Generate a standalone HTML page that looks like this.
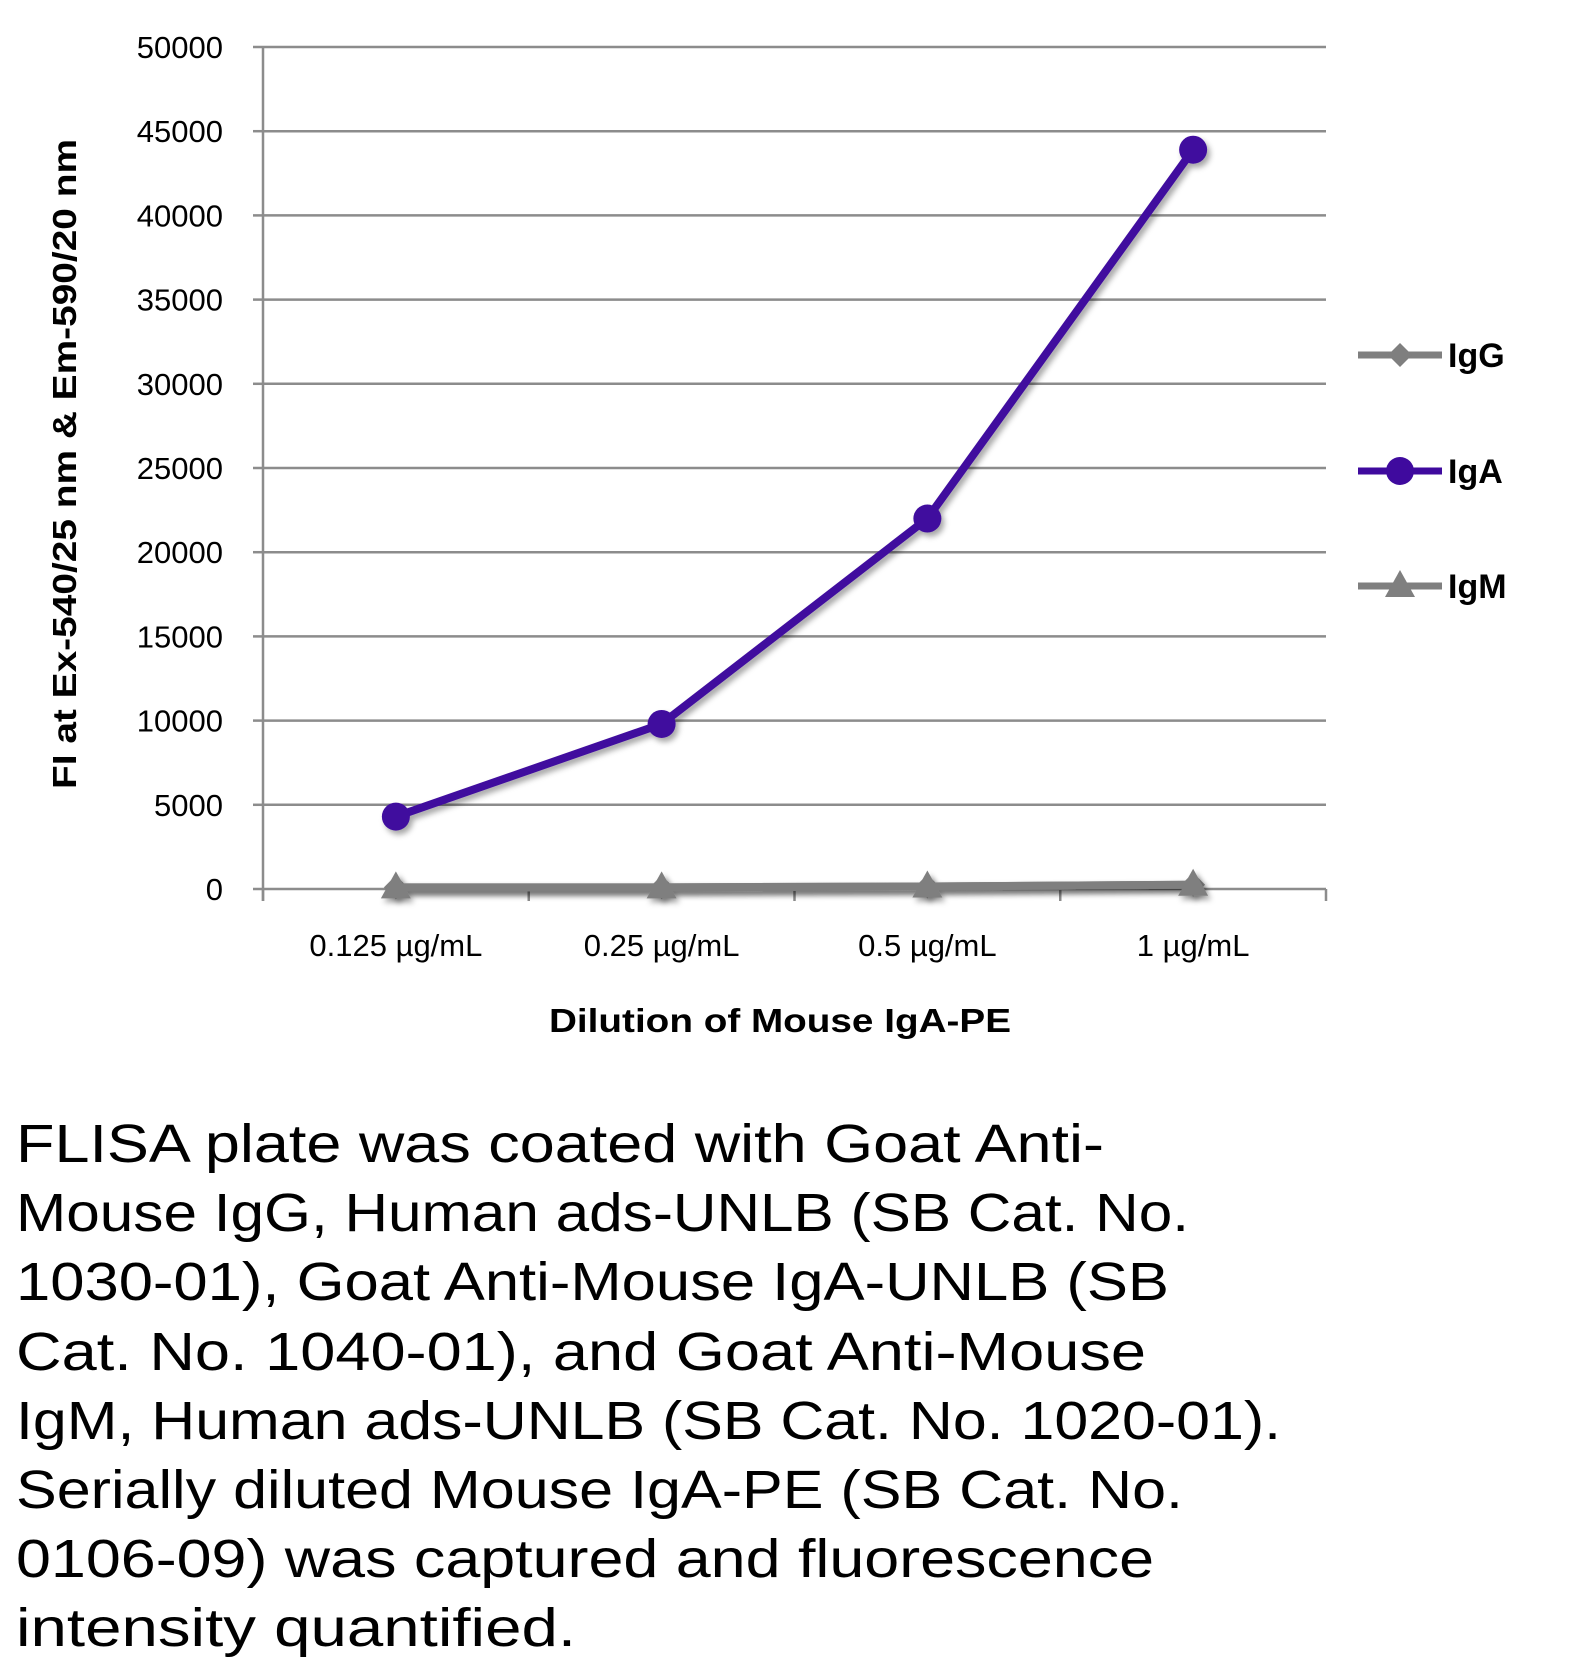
<!DOCTYPE html>
<html><head><meta charset="utf-8"><style>
html,body{margin:0;padding:0;background:#fff;}
svg{display:block;font-family:"Liberation Sans",sans-serif;}
</style></head><body>
<svg id="chart" width="1570" height="1670" viewBox="0 0 1570 1670" xmlns="http://www.w3.org/2000/svg">
<defs><filter id="sh" x="-50%" y="-50%" width="200%" height="200%"><feDropShadow dx="3" dy="4" stdDeviation="3" flood-color="#000" flood-opacity="0.35"/></filter></defs>
<g id="grid"></g>
<g id="axes"></g>
<g id="series"></g>
<g id="legend"></g>
<text transform="translate(76,464) rotate(-90)" text-anchor="middle" font-size="33" font-weight="bold" fill="#000" textLength="650" lengthAdjust="spacingAndGlyphs">FI at Ex-540/25 nm &amp; Em-590/20 nm</text>
<text x="780" y="1032" text-anchor="middle" font-size="33" font-weight="bold" fill="#000" textLength="462" lengthAdjust="spacingAndGlyphs">Dilution of Mouse IgA-PE</text>
<g font-size="54" fill="#000">
<text x="16" y="1162" textLength="1088" lengthAdjust="spacingAndGlyphs">FLISA plate was coated with Goat Anti-</text>
<text x="16" y="1231" textLength="1173" lengthAdjust="spacingAndGlyphs">Mouse IgG, Human ads-UNLB (SB Cat. No.</text>
<text x="16" y="1300" textLength="1153" lengthAdjust="spacingAndGlyphs">1030-01), Goat Anti-Mouse IgA-UNLB (SB</text>
<text x="16" y="1370" textLength="1130" lengthAdjust="spacingAndGlyphs">Cat. No. 1040-01), and Goat Anti-Mouse</text>
<text x="16" y="1439" textLength="1265" lengthAdjust="spacingAndGlyphs">IgM, Human ads-UNLB (SB Cat. No. 1020-01).</text>
<text x="16" y="1508" textLength="1167" lengthAdjust="spacingAndGlyphs">Serially diluted Mouse IgA-PE (SB Cat. No.</text>
<text x="16" y="1577" textLength="1138" lengthAdjust="spacingAndGlyphs">0106-09) was captured and fluorescence</text>
<text x="16" y="1646" textLength="560" lengthAdjust="spacingAndGlyphs">intensity quantified.</text>
</g>
</svg>
<script>
const categories = ["0.125 µg/mL","0.25 µg/mL","0.5 µg/mL","1 µg/mL"];
const igG = [100, 100, 150, 250];
const igA = [4300, 9800, 22000, 43900];
const igM = [100, 100, 150, 250];
const yTicks = [0,5000,10000,15000,20000,25000,30000,35000,40000,45000,50000];

const NS="http://www.w3.org/2000/svg";
const L=263,R=1326,T=47,B=889,YMAX=50000;
const bw=(R-L)/categories.length;
function xs(i){return L+bw*(i+0.5);}
function ys(v){return B-(v/YMAX)*(B-T);}
function mk(tag,attrs,parent){const e=document.createElementNS(NS,tag);for(const k in attrs)e.setAttribute(k,attrs[k]);parent.appendChild(e);return e;}
const grid=document.getElementById('grid'),axes=document.getElementById('axes'),series=document.getElementById('series'),legend=document.getElementById('legend');

yTicks.forEach(v=>{
  if(v>0){const g=mk('line',{x1:L,x2:R,y1:ys(v),y2:ys(v),stroke:'#8c8c8c','stroke-width':2.5},grid);
  
  }
  const tk=mk('line',{x1:L-10,x2:L,y1:ys(v),y2:ys(v),stroke:'#8c8c8c','stroke-width':2.5},axes);
  
  
  const t=mk('text',{x:223,y:ys(v)+11,'text-anchor':'end','font-size':31,fill:'#000'},axes);
  
  
  t.textContent=v;
});
const ya=mk('line',{x1:L,x2:L,y1:T,y2:B+12,stroke:'#8c8c8c','stroke-width':2.5},axes);


const xa=mk('line',{x1:L,x2:R,y1:B,y2:B,stroke:'#8c8c8c','stroke-width':2.5},axes);


for(let i=0;i<=categories.length;i++){
  const tk=mk('line',{x1:L+bw*i,x2:L+bw*i,y1:B,y2:B+12,stroke:'#8c8c8c','stroke-width':2.5},axes);
  
  
}
categories.forEach((c,i)=>{
  const t=mk('text',{x:xs(i),y:956,'text-anchor':'middle','font-size':31,fill:'#000'},axes);
  
  
  t.textContent=c;
});

function marker(kind,x,y,color,parent){
  let e;
  if(kind==='circle') e=mk('circle',{cx:x,cy:y,r:14,fill:color},parent);
  else if(kind==='diamond') e=mk('polygon',{points:`${x},${y-12} ${x+12},${y} ${x},${y+12} ${x-12},${y}`,fill:color},parent);
  else e=mk('polygon',{points:`${x},${y-16} ${x+15},${y+11} ${x-15},${y+11}`,fill:color},parent);
  return e;
}
function drawSeries(name,vals,color,kind){
  const g=mk('g',{filter:'url(#sh)'},series);
  
  
  const pl=mk('polyline',{points:vals.map((v,i)=>xs(i)+','+ys(v)).join(' '),fill:'none',stroke:color,'stroke-width':8,'stroke-linejoin':'round'},g);
  
  
  vals.forEach((v,i)=>{
    const m=marker(kind,xs(i),ys(v),color,g);
    
    
  });
}
drawSeries('IgG',igG,'#7f7f7f','diamond');
drawSeries('IgM',igM,'#7f7f7f','triangle');
drawSeries('IgA',igA,'#3f0a9e','circle');

[['IgG','#7f7f7f','diamond',355],['IgA','#3f0a9e','circle',471],['IgM','#7f7f7f','triangle',586]].forEach(([n,c,k,y])=>{
  const g=mk('g',{},legend);
  
  
  mk('line',{x1:1358,x2:1442,y1:y,y2:y,stroke:c,'stroke-width':7},g);
  marker(k,1400,y,c,g);
  const t=mk('text',{x:1448,y:y+12,'font-size':34,'font-weight':'bold',fill:'#000'},g);
  
  
  t.textContent=n;
});
</script>
</body></html>
